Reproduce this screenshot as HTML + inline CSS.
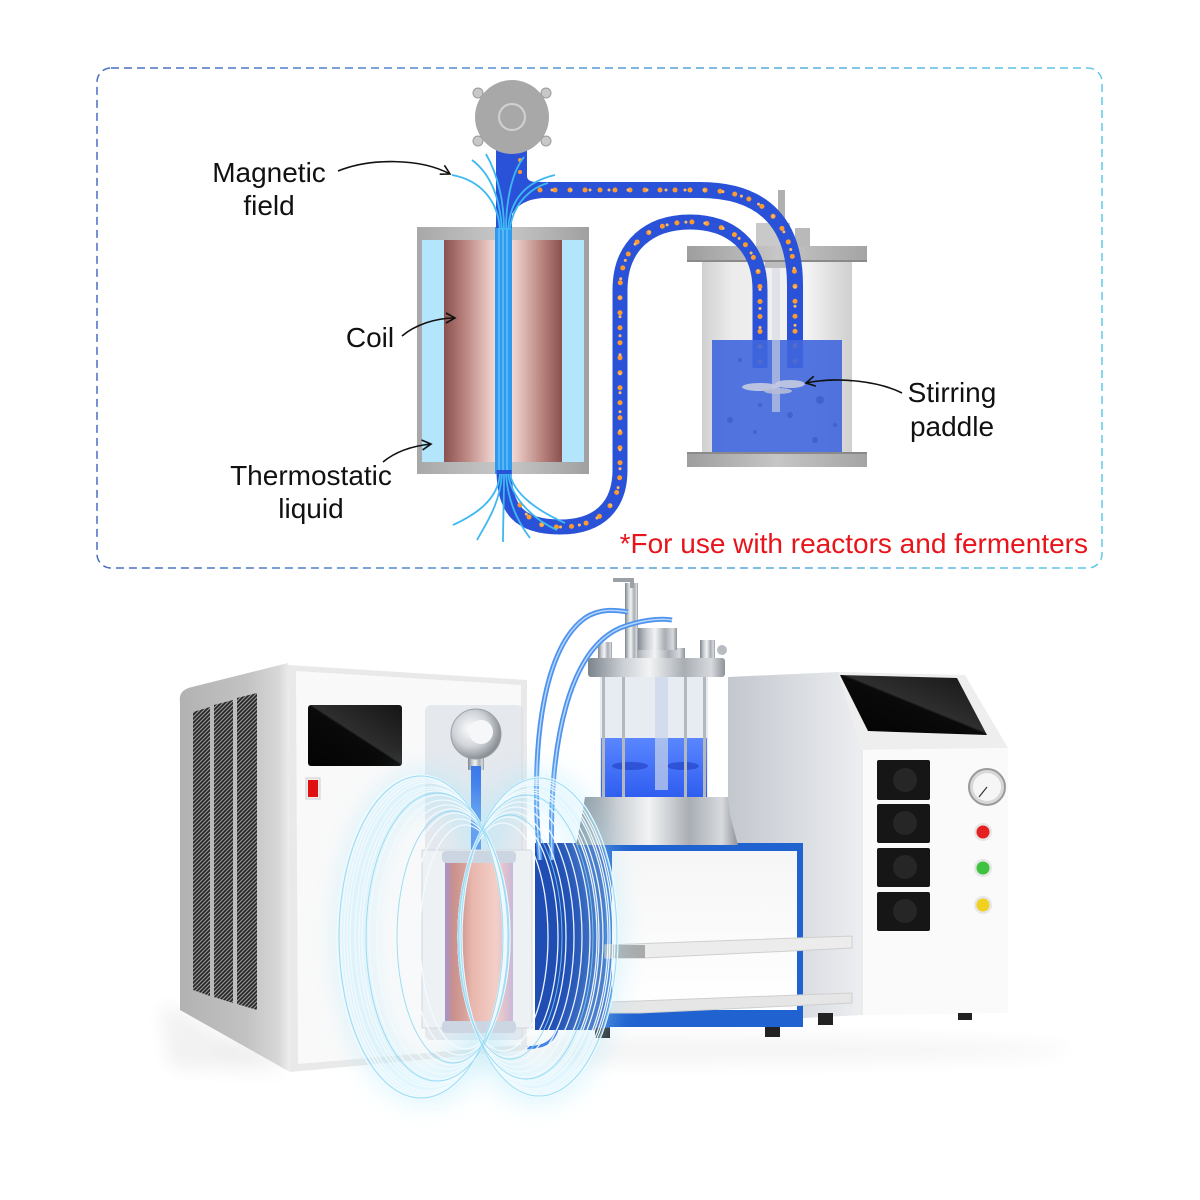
<!DOCTYPE html>
<html><head><meta charset="utf-8"><style>
html,body{margin:0;padding:0;background:#fff;}
svg{display:block;}
text{font-family:"Liberation Sans",Arial,sans-serif;}
</style></head><body>
<svg width="1200" height="1200" viewBox="0 0 1200 1200" xmlns="http://www.w3.org/2000/svg">
<defs>
 <linearGradient id="border" x1="0" x2="1" y1="0" y2="0"><stop offset="0" stop-color="#4a6cc0"/><stop offset="1" stop-color="#5ec8ea"/></linearGradient>
 <linearGradient id="cuL" x1="0" x2="1"><stop offset="0" stop-color="#8a524f"/><stop offset="0.35" stop-color="#b47c77"/><stop offset="1" stop-color="#f3d8d4"/></linearGradient>
 <linearGradient id="cuR" x1="0" x2="1"><stop offset="0" stop-color="#f3d8d4"/><stop offset="0.65" stop-color="#b47c77"/><stop offset="1" stop-color="#8a524f"/></linearGradient>
 <linearGradient id="plate" x1="0" x2="1"><stop offset="0" stop-color="#9e9e9e"/><stop offset="0.5" stop-color="#c6c6c6"/><stop offset="1" stop-color="#a4a4a4"/></linearGradient>
 <linearGradient id="plateG" x1="0" x2="1"><stop offset="0" stop-color="#a8a8a8"/><stop offset="0.5" stop-color="#c8c8c8"/><stop offset="1" stop-color="#a0a0a0"/></linearGradient>
 <linearGradient id="glass" x1="0" x2="1"><stop offset="0" stop-color="#d0d0d0"/><stop offset="0.2" stop-color="#ececec"/><stop offset="0.7" stop-color="#f3f3f3"/><stop offset="1" stop-color="#cfcfcf"/></linearGradient>
 <linearGradient id="steel" x1="0" x2="1"><stop offset="0" stop-color="#7d838b"/><stop offset="0.25" stop-color="#c9ced3"/><stop offset="0.45" stop-color="#f2f3f4"/><stop offset="0.7" stop-color="#a9aeb4"/><stop offset="0.9" stop-color="#d7dadd"/><stop offset="1" stop-color="#8e939a"/></linearGradient>
 <linearGradient id="side" x1="0" x2="1"><stop offset="0" stop-color="#b2b2b2"/><stop offset="0.6" stop-color="#c2c2c2"/><stop offset="0.9" stop-color="#d8d8d8"/><stop offset="1" stop-color="#eeeeee"/></linearGradient>
 <linearGradient id="cside" x1="0" x2="1"><stop offset="0" stop-color="#c3c7ce"/><stop offset="1" stop-color="#eceef1"/></linearGradient>
 <linearGradient id="screen" x1="0" y1="1" x2="1" y2="0"><stop offset="0" stop-color="#030303"/><stop offset="0.5" stop-color="#0a0a0a"/><stop offset="0.52" stop-color="#2e2e2e"/><stop offset="1" stop-color="#151515"/></linearGradient>
 <linearGradient id="liq" x1="0" y1="0" x2="0" y2="1"><stop offset="0" stop-color="#5a86ff"/><stop offset="1" stop-color="#2f5ef0"/></linearGradient>
 <linearGradient id="cu2" x1="0" x2="1"><stop offset="0" stop-color="#a595cc"/><stop offset="0.12" stop-color="#c98f8c"/><stop offset="0.3" stop-color="#d8a39c"/><stop offset="0.4" stop-color="#e9b7ad"/><stop offset="0.75" stop-color="#f3cfc7"/><stop offset="1" stop-color="#c9b8d8"/></linearGradient>
 <linearGradient id="whiteV" x1="0" y1="0" x2="0" y2="1"><stop offset="0" stop-color="#f6f6f6"/><stop offset="1" stop-color="#ffffff"/></linearGradient>
 <radialGradient id="silver" cx="0.4" cy="0.4" r="0.6"><stop offset="0" stop-color="#ffffff"/><stop offset="0.6" stop-color="#cfd3d8"/><stop offset="1" stop-color="#8b9096"/></radialGradient>
 <pattern id="vent" patternUnits="userSpaceOnUse" width="4" height="4"><rect width="4" height="4" fill="#9a9a9a"/><path d="M-1,1 L1,-1 M0,4 L4,0 M3,5 L5,3" stroke="#262626" stroke-width="1.7"/></pattern>
 <marker id="arr" markerUnits="userSpaceOnUse" markerWidth="14" markerHeight="14" refX="10" refY="6" orient="auto"><path d="M1,1 L10,6 L1,11" fill="none" stroke="#111" stroke-width="1.6"/></marker>
 <filter id="blur8" x="-50%" y="-50%" width="200%" height="200%"><feGaussianBlur stdDeviation="9"/></filter>
 <filter id="blur14" x="-50%" y="-50%" width="200%" height="200%"><feGaussianBlur stdDeviation="14"/></filter>
</defs>

<rect width="1200" height="1200" fill="#ffffff"/>

<!-- ===== TOP DIAGRAM ===== -->
<rect x="97" y="68" width="1005" height="500" rx="14" fill="none" stroke="url(#border)" stroke-width="1.5" stroke-dasharray="8 5"/>

<!-- reactor (top) -->
<rect x="778" y="190" width="7" height="56" fill="#b0b0b0"/>
<rect x="756" y="223" width="34" height="23" fill="#c9c9c9"/>
<rect x="795" y="228" width="15" height="18" fill="#b9b9b9"/>
<rect x="702" y="262" width="150" height="190" fill="url(#glass)"/>
<rect x="687" y="246" width="180" height="16" fill="url(#plate)"/>
<rect x="687" y="260" width="180" height="2" fill="#8a8a8a"/>
<rect x="765" y="262" width="23" height="6" fill="#bdbdbd"/>

<!-- coil box -->
<rect x="417" y="227" width="172" height="247" fill="url(#plateG)"/>
<rect x="422" y="240" width="162" height="222" fill="#b3e5fc"/>
<rect x="444" y="240" width="51" height="222" fill="url(#cuL)"/>
<rect x="512" y="240" width="50" height="222" fill="url(#cuR)"/>
<rect x="495" y="227" width="17" height="247" fill="#2d9bef"/>
<g stroke="#8fd8ff" stroke-width="1" opacity="0.9">
 <line x1="499" y1="227" x2="499" y2="474"/><line x1="503" y1="227" x2="503" y2="474"/><line x1="507" y1="227" x2="507" y2="474"/>
</g>

<!-- tubes -->
<path d="M496,150 L527,150 L527,176 Q527,182 537,182 L542,182 L542,198 Q520,200 512,214 L512,228 L496,228 Z" fill="#2a52d9"/>
<path d="M536,190 L700,190 C765,190 795,225 795,285 L795,368" fill="none" stroke="#2a52d9" stroke-width="16"/>
<path d="M504,470 C504,510 520,527 560,527 C600,527 620,505 620,470 L620,290 C620,245 650,222 690,222 C730,222 760,245 760,290 L760,368" fill="none" stroke="#2a52d9" stroke-width="15"/>
<g fill="none" stroke-linecap="round">
 <path d="M540,190 L700,190 C765,190 795,225 795,285 L795,362" stroke="#ff9a2e" stroke-width="5" stroke-dasharray="0 15"/>
 <path d="M540,190 L700,190 C765,190 795,225 795,285 L795,362" stroke="#ffb866" stroke-width="3" stroke-dasharray="0 19" stroke-dashoffset="7"/>
 <path d="M520,505 C530,522 540,527 560,527 C600,527 620,505 620,470 L620,290 C620,245 650,222 690,222 C730,222 760,245 760,290 L760,362" stroke="#ff9a2e" stroke-width="5" stroke-dasharray="0 15"/>
 <path d="M520,505 C530,522 540,527 560,527 C600,527 620,505 620,470 L620,290 C620,245 650,222 690,222 C730,222 760,245 760,290 L760,362" stroke="#ffb866" stroke-width="3" stroke-dasharray="0 19" stroke-dashoffset="8"/>
 <path d="M520,160 L520,178" stroke="#ff9a2e" stroke-width="4" stroke-dasharray="0 12"/>
</g>

<!-- liquid over tube ends -->
<rect x="712" y="340" width="130" height="112" fill="#3f66dc" opacity="0.9"/>
<g fill="#3558c8" opacity="0.6">
 <circle cx="730" cy="420" r="3"/><circle cx="755" cy="432" r="2"/><circle cx="790" cy="415" r="3"/><circle cx="820" cy="400" r="4"/><circle cx="740" cy="360" r="2"/><circle cx="815" cy="440" r="3"/><circle cx="760" cy="405" r="2"/><circle cx="835" cy="425" r="2"/>
</g>
<rect x="772" y="268" width="8" height="144" fill="#d6d9e2" opacity="0.6"/>
<ellipse cx="760" cy="387" rx="18" ry="4" fill="#c5cbe2" opacity="0.9"/>
<ellipse cx="790" cy="384" rx="15" ry="4" fill="#c5cbe2" opacity="0.9"/>
<ellipse cx="778" cy="391" rx="14" ry="3" fill="#b6bdd8" opacity="0.9"/>
<rect x="687" y="452" width="180" height="15" fill="url(#plate)"/>
<rect x="687" y="452" width="180" height="2" fill="#8a8a8a"/>

<!-- pump head (top) -->
<circle cx="512" cy="117" r="37" fill="#a8a8a8"/>
<circle cx="512" cy="117" r="13" fill="none" stroke="#d2d2d2" stroke-width="2"/>
<g fill="#c8c8c8" stroke="#9a9a9a" stroke-width="1"><circle cx="478" cy="93" r="5"/><circle cx="546" cy="93" r="5"/><circle cx="478" cy="141" r="5"/><circle cx="546" cy="141" r="5"/></g>

<!-- field lines (top) -->
<g fill="none" stroke="#3db8f2" stroke-width="1.8">
 <path d="M500,230 C498,200 480,180 452,175"/>
 <path d="M502,230 C500,200 492,175 472,160"/>
 <path d="M504,230 C504,195 495,170 486,154"/>
 <path d="M506,230 C506,200 512,172 524,157"/>
 <path d="M508,230 C510,200 525,182 555,175"/>
 <path d="M510,230 C512,205 530,188 548,183"/>
 <path d="M500,474 C498,500 475,515 453,525"/>
 <path d="M502,474 C500,505 485,525 477,540"/>
 <path d="M504,474 C504,500 503,525 503,542"/>
 <path d="M506,474 C508,505 520,525 530,538"/>
 <path d="M508,474 C512,500 535,520 557,530"/>
 <path d="M510,474 C514,495 540,512 565,523"/>
</g>

<!-- labels & arrows -->
<g fill="#111" font-size="28" text-anchor="middle">
 <text x="269" y="182">Magnetic</text>
 <text x="269" y="215">field</text>
 <text x="370" y="347">Coil</text>
 <text x="311" y="485">Thermostatic</text>
 <text x="311" y="518">liquid</text>
 <text x="952" y="402">Stirring</text>
 <text x="952" y="436">paddle</text>
</g>
<text x="1088" y="553" font-size="28" text-anchor="end" fill="#e8141b">*For use with reactors and fermenters</text>
<g fill="none" stroke="#111" stroke-width="1.6" marker-end="url(#arr)">
 <path d="M338,171 C370,158 420,158 450,174"/>
 <path d="M402,336 C415,325 435,318 455,318"/>
 <path d="M383,462 C395,452 412,446 431,444"/>
 <path d="M902,393 C880,382 840,376 806,383"/>
</g>

<!-- ===== BOTTOM RENDER ===== -->
<!-- floor shadows -->
<ellipse cx="640" cy="1050" rx="430" ry="14" fill="#000" opacity="0.04" filter="url(#blur8)"/>
<path d="M160,1005 L180,1010 L290,1072 L170,1068 Z" fill="#000" opacity="0.05" filter="url(#blur8)"/>

<!-- right controller -->
<polygon points="728,677 838,672 862,750 862,1015 728,1022" fill="url(#cside)"/>
<polygon points="838,672 965,675 1008,748 862,750" fill="#eeeeee"/>
<polygon points="862,750 1008,748 1008,1013 862,1015" fill="#fafafa"/>
<line x1="862" y1="750" x2="862" y2="1015" stroke="#e2e2e2" stroke-width="1"/>
<polygon points="840,675 957,678 987,735 868,731" fill="url(#screen)"/>
<g fill="#161616">
 <rect x="877" y="760" width="53" height="40" rx="2"/>
 <rect x="877" y="804" width="53" height="39" rx="2"/>
 <rect x="877" y="848" width="53" height="39" rx="2"/>
 <rect x="877" y="892" width="53" height="39" rx="2"/>
</g>
<g fill="#262626"><circle cx="905" cy="780" r="12"/><circle cx="905" cy="823" r="12"/><circle cx="905" cy="867" r="12"/><circle cx="905" cy="911" r="12"/></g>
<circle cx="987" cy="787" r="18" fill="#d8d8d8" stroke="#9a9a9a" stroke-width="2"/>
<circle cx="987" cy="787" r="14" fill="#f6f6f6"/>
<line x1="987" y1="787" x2="979" y2="797" stroke="#333" stroke-width="1.2"/>
<circle cx="983" cy="832" r="9" fill="#e6e6e6"/><circle cx="983" cy="832" r="6.5" fill="#e52020"/>
<circle cx="983" cy="868" r="9" fill="#e6e6e6"/><circle cx="983" cy="868" r="6.5" fill="#3fc23f"/>
<circle cx="983" cy="905" r="9" fill="#e6e6e6"/><circle cx="983" cy="905" r="6.5" fill="#f0d020"/>
<rect x="958" y="1013" width="14" height="7" fill="#222"/>
<rect x="818" y="1013" width="15" height="12" fill="#222"/>

<!-- blue base box -->
<rect x="535" y="843" width="75" height="187" fill="#1f4db3"/>
<rect x="605" y="843" width="198" height="184" fill="#2062cf"/>
<rect x="612" y="851" width="185" height="159" fill="url(#whiteV)"/>
<polygon points="605,945 852,936 852,948 645,958 605,958" fill="#ececec" stroke="#cfcfcf" stroke-width="1"/>
<rect x="605" y="945" width="40" height="13" fill="#a9a9a9"/>
<polygon points="610,1002 852,993 852,1003 640,1013 610,1013" fill="#e6e6e6" stroke="#cfcfcf" stroke-width="1"/>
<rect x="765" y="1027" width="15" height="10" fill="#222"/>
<rect x="595" y="1028" width="15" height="10" fill="#222"/>

<!-- reactor (render) -->
<path d="M585,797 L728,797 L730,815 L738,845 L576,845 L582,815 Z" fill="url(#steel)"/>
<rect x="600" y="677" width="108" height="120" fill="#e3e9f1" opacity="0.85"/>
<rect x="601" y="738" width="106" height="59" fill="url(#liq)"/>
<ellipse cx="630" cy="766" rx="18" ry="4" fill="#2546c8" opacity="0.7"/>
<ellipse cx="683" cy="766" rx="16" ry="4" fill="#2546c8" opacity="0.7"/>
<g fill="#b3b8bf"><rect x="602" y="677" width="3" height="120"/><rect x="622" y="677" width="3" height="120"/><rect x="684" y="677" width="3" height="120"/><rect x="703" y="677" width="3" height="120"/></g>
<rect x="655" y="677" width="13" height="113" fill="#c9d5e8" opacity="0.7"/>
<rect x="588" y="658" width="137" height="19" rx="3" fill="url(#steel)"/>
<rect x="630" y="648" width="55" height="10" fill="url(#steel)"/>
<rect x="637" y="628" width="40" height="22" fill="url(#steel)"/>
<rect x="625" y="583" width="13" height="75" fill="url(#steel)"/>
<path d="M613,580 L632,580 L632,588" fill="none" stroke="#9ca1a7" stroke-width="4"/>
<rect x="700" y="640" width="15" height="18" fill="url(#steel)"/>
<circle cx="722" cy="650" r="5" fill="#b8bcc2"/>
<rect x="598" y="642" width="14" height="16" fill="url(#steel)"/>

<!-- tubes (render) -->
<g fill="none">
 <path d="M540,860 C530,760 540,650 585,618 C600,608 615,610 628,612" stroke="#4d93ee" stroke-width="5"/>
 <path d="M552,860 C548,740 570,650 620,628 C640,620 660,618 672,620" stroke="#4d93ee" stroke-width="5"/>
 <path d="M540,860 C530,760 540,650 585,618 C600,608 615,610 628,612" stroke="#b5d5fb" stroke-width="1.5"/>
 <path d="M552,860 C548,740 570,650 620,628 C640,620 660,618 672,620" stroke="#b5d5fb" stroke-width="1.5"/>
 <path d="M557,1030 C552,1045 540,1048 520,1048" stroke="#3d7fe8" stroke-width="3"/>
</g>

<!-- left unit -->
<path d="M180,702 Q178,690 192,687 L288,663 L290,1072 L180,1010 Z" fill="url(#side)"/>
<polygon points="193,712 210,707 210,996 193,990" fill="url(#vent)"/>
<polygon points="214,705 233,700 233,1003 214,997" fill="url(#vent)"/>
<polygon points="237,698 257,693 257,1010 237,1004" fill="url(#vent)"/>
<polygon points="288,665 527,680 527,1050 290,1072" fill="#e9e9e9"/>
<polygon points="296,671 521,685 521,1045 298,1064" fill="#f9f9f9"/>
<rect x="308" y="705" width="94" height="61" rx="3" fill="url(#screen)"/>
<rect x="306" y="778" width="14" height="21" fill="#eeeeee" stroke="#d0d0d0" stroke-width="1"/>
<rect x="308" y="780" width="10" height="17" fill="#e01010"/>
<rect x="425" y="705" width="98" height="335" rx="6" fill="#d6dde5" opacity="0.55"/>
<rect x="468" y="752" width="16" height="18" fill="url(#steel)"/>
<rect x="471" y="766" width="10" height="95" fill="#3a78ea"/>
<circle cx="476" cy="734" r="25" fill="url(#silver)" stroke="#9aa0a6" stroke-width="1"/>
<circle cx="481" cy="732" r="12" fill="#f6f7f8"/>

<!-- magnetic field glow (behind coil) -->
<g fill="none" stroke="#a8e6fb" stroke-width="30" opacity="0.45" filter="url(#blur14)">
 <ellipse cx="425" cy="937" rx="72" ry="150"/>
 <ellipse cx="537" cy="937" rx="68" ry="150"/>
</g>

<rect x="422" y="850" width="110" height="178" fill="#eef1f4" stroke="#d3d8de" stroke-width="1"/>
<rect x="445" y="857" width="68" height="170" fill="url(#cu2)"/>
<rect x="442" y="851" width="74" height="12" rx="4" fill="#ccd6e3"/>
<rect x="442" y="1021" width="74" height="12" rx="4" fill="#ccd6e3"/>

<g fill="none" stroke="#f2fbff" stroke-width="1.3" opacity="0.95">
 <ellipse cx="420" cy="937" rx="83" ry="162"/><ellipse cx="422" cy="937" rx="81" ry="160"/><ellipse cx="424" cy="937" rx="80" ry="158"/><ellipse cx="426" cy="937" rx="79" ry="156"/><ellipse cx="428" cy="937" rx="78" ry="154"/>
 <ellipse cx="431" cy="937" rx="76" ry="150"/><ellipse cx="433" cy="937" rx="74" ry="148"/><ellipse cx="435" cy="937" rx="73" ry="146"/><ellipse cx="439" cy="937" rx="70" ry="142"/>
 <ellipse cx="443" cy="937" rx="66" ry="137"/><ellipse cx="447" cy="937" rx="62" ry="132"/><ellipse cx="451" cy="937" rx="58" ry="128"/>
 <ellipse cx="455" cy="937" rx="54" ry="124"/><ellipse cx="460" cy="937" rx="50" ry="118"/><ellipse cx="465" cy="937" rx="45" ry="112"/>
 <ellipse cx="540" cy="937" rx="78" ry="160"/><ellipse cx="538" cy="937" rx="77" ry="158"/><ellipse cx="537" cy="937" rx="76" ry="156"/><ellipse cx="535" cy="937" rx="75" ry="154"/><ellipse cx="534" cy="937" rx="74" ry="152"/>
 <ellipse cx="531" cy="937" rx="72" ry="148"/><ellipse cx="529" cy="937" rx="70" ry="146"/><ellipse cx="528" cy="937" rx="69" ry="144"/><ellipse cx="524" cy="937" rx="66" ry="140"/>
 <ellipse cx="520" cy="937" rx="62" ry="135"/><ellipse cx="516" cy="937" rx="58" ry="130"/><ellipse cx="512" cy="937" rx="54" ry="125"/>
 <ellipse cx="508" cy="937" rx="50" ry="120"/><ellipse cx="503" cy="937" rx="45" ry="114"/>
</g>
<g fill="none" stroke="#86d6f4" stroke-width="1" opacity="0.8">
 <ellipse cx="421" cy="937" rx="82" ry="161"/><ellipse cx="437" cy="937" rx="71" ry="144"/><ellipse cx="453" cy="937" rx="56" ry="126"/>
 <ellipse cx="539" cy="937" rx="78" ry="159"/><ellipse cx="526" cy="937" rx="67" ry="142"/><ellipse cx="510" cy="937" rx="52" ry="122"/>
</g>
</svg>
</body></html>
